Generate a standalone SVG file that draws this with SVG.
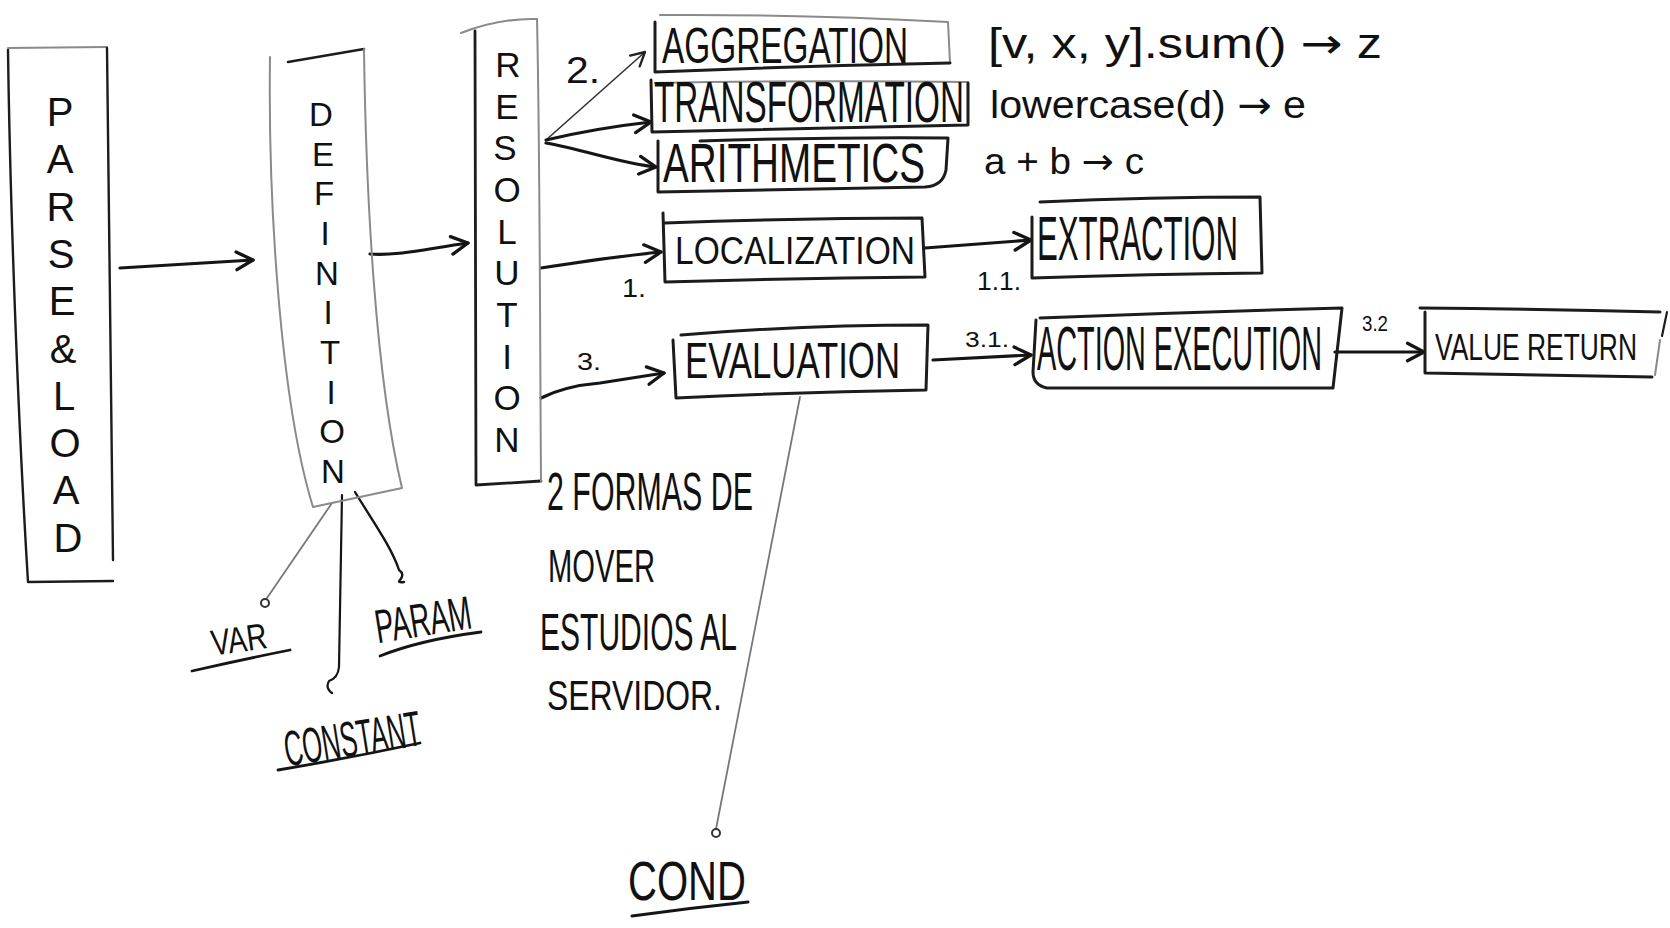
<svg xmlns="http://www.w3.org/2000/svg" width="1670" height="928" viewBox="0 0 1670 928">
<style>
  .bg{fill:#ffffff}
  .box{fill:none;stroke:#1c1c1c;stroke-width:3;stroke-linecap:round;stroke-linejoin:round}
  .pen{fill:none;stroke:#8a8a8a;stroke-width:2;stroke-linecap:round;stroke-linejoin:round}
  .con{fill:none;stroke:#151515;stroke-width:3.2;stroke-linecap:round;stroke-linejoin:round}
  .thin{fill:none;stroke:#333;stroke-width:1.6;stroke-linecap:round}
  .gray{fill:none;stroke:#777;stroke-width:1.8;stroke-linecap:round}
  .dot{fill:none;stroke:#333;stroke-width:2}
  text{font-family:"Liberation Sans",Arial,sans-serif;fill:#111}
  .ar{font-family:"DejaVu Sans",sans-serif}
  .v{text-anchor:middle}
</style>
<defs>
  <marker id="arr" viewBox="0 0 20 20" refX="18" refY="10" markerWidth="22" markerHeight="22" markerUnits="userSpaceOnUse" orient="auto">
    <path d="M3,2 L18,10 L3,18" fill="none" stroke="#151515" stroke-width="3" stroke-linecap="round" stroke-linejoin="round"/>
  </marker>
  <marker id="arrs" viewBox="0 0 20 20" refX="18" refY="10" markerWidth="18" markerHeight="18" markerUnits="userSpaceOnUse" orient="auto">
    <path d="M3,2 L18,10 L3,18" fill="none" stroke="#222" stroke-width="2.6" stroke-linecap="round" stroke-linejoin="round"/>
  </marker>
</defs>
<rect class="bg" x="0" y="0" width="1670" height="928"/>

<g id="connectors">
  <path class="con" d="M120,268 C170,265 215,262 253,260" marker-end="url(#arr)"/>
  <path class="con" d="M370,254 C395,256 420,250 468,243" marker-end="url(#arr)"/>
  <path class="thin" d="M546,140 L645,52" marker-end="url(#arrs)"/>
  <path class="con" d="M546,140 C580,132 615,126 651,122" marker-end="url(#arr)"/>
  <path class="con" d="M546,143 C585,150 620,163 656,167" marker-end="url(#arr)"/>
  <path class="con" d="M541,268 C580,262 620,256 661,252" marker-end="url(#arr)"/>
  <path class="con" d="M925,248 L1031,240" marker-end="url(#arr)"/>
  <path class="con" d="M541,398 Q565,386 600,383 L664,373" marker-end="url(#arr)"/>
  <path class="con" d="M933,360 L1031,355" marker-end="url(#arr)"/>
  <path class="con" d="M1335,352 L1424,352" marker-end="url(#arr)"/>
  <path class="gray" d="M332,503 L267,598"/>
  <circle class="dot" cx="265" cy="603" r="4"/>
  <path class="con" style="stroke-width:2.2" d="M342,495 L339,667 Q338,678 329,681 Q325,688 332,693"/>
  <path class="con" style="stroke-width:2.4" d="M355,492 C372,520 392,548 399,570 Q405,574 400,580 Q397,583 404,582"/>
  <path class="gray" d="M800,397 L716,829"/>
  <circle class="dot" cx="716" cy="833" r="4"/>
  <text x="566" y="83" font-size="36" textLength="34" lengthAdjust="spacingAndGlyphs">2.</text>
  <text x="622" y="297" font-size="26" textLength="24" lengthAdjust="spacingAndGlyphs">1.</text>
  <text x="977" y="290" font-size="26" textLength="44" lengthAdjust="spacingAndGlyphs">1.1.</text>
  <text x="577" y="370" font-size="24" textLength="24" lengthAdjust="spacingAndGlyphs">3.</text>
  <text x="965" y="347" font-size="22" textLength="44" lengthAdjust="spacingAndGlyphs">3.1.</text>
  <text x="1362" y="331" font-size="22" textLength="26" lengthAdjust="spacingAndGlyphs">3.2</text>
</g>

<g id="parse-load">
  <path class="pen" d="M8,48 L107,47"/>
  <path class="box" style="stroke-width:2.4" d="M8,50 C10,200 18,420 28,582 L113,581"/>
  <path class="box" style="stroke-width:2.4" d="M107,48 C110,200 110,420 113,560"/>
  <text class="v" font-size="40"><tspan x="60" y="126">P</tspan><tspan x="60" y="173">A</tspan><tspan x="61" y="221">R</tspan><tspan x="61" y="268">S</tspan><tspan x="62" y="315">E</tspan><tspan x="63" y="363">&amp;</tspan><tspan x="64" y="410">L</tspan><tspan x="65" y="457">O</tspan><tspan x="66" y="504">A</tspan><tspan x="68" y="552">D</tspan></text>
</g>

<g id="definition">
  <path class="pen" d="M270,57 C268,200 280,400 313,507"/>
  <path class="box" style="stroke-width:2.6" d="M288,62 L364,49"/>
  <path class="pen" d="M364,49 C366,200 376,380 402,488 L313,507"/>
  <text class="v" font-size="33"><tspan x="321" y="126">D</tspan><tspan x="323" y="166">E</tspan><tspan x="324" y="205">F</tspan><tspan x="325" y="245">I</tspan><tspan x="327" y="285">N</tspan><tspan x="328" y="324">I</tspan><tspan x="330" y="364">T</tspan><tspan x="331" y="404">I</tspan><tspan x="332" y="443">O</tspan><tspan x="333" y="483">N</tspan></text>
</g>

<g id="resolution">
  <path class="pen" d="M461,33 Q500,18 537,19"/>
  <path class="box" style="stroke-width:2.8" d="M475,31 L476,485 L541,481"/>
  <path class="pen" d="M537,19 C540,150 540,350 541,481"/>
  <text class="v" font-size="35"><tspan x="508" y="77">R</tspan><tspan x="507" y="119">E</tspan><tspan x="505" y="160">S</tspan><tspan x="507" y="202">O</tspan><tspan x="507" y="244">L</tspan><tspan x="507" y="285">U</tspan><tspan x="507" y="327">T</tspan><tspan x="507" y="369">I</tspan><tspan x="507" y="410">O</tspan><tspan x="507" y="452">N</tspan></text>
</g>

<g id="aggregation">
  <path class="pen" d="M660,15 Q800,14 948,22 L950,63"/>
  <path class="box" d="M655,22 L655,72 Q800,66 950,63"/>
  <text x="662" y="63" font-size="33" textLength="246" lengthAdjust="spacingAndGlyphs" transform="matrix(1 0 0 1.5 0 -31.5)">AGGREGATION</text>
</g>

<g id="transformation">
  <path class="pen" d="M655,83 Q810,80 968,82"/>
  <path class="box" d="M651,80 L652,132 Q810,128 968,125 L968,83"/>
  <text x="654" y="122" font-size="33" textLength="310" lengthAdjust="spacingAndGlyphs" transform="matrix(1 0 0 1.75 0 -91.5)">TRANSFORMATION</text>
</g>

<g id="arithmetics">
  <path class="box" d="M700,141 Q830,137 948,138 L946,170 Q943,186 925,187 L658,192 L658,141"/>
  <text x="663" y="182" font-size="38" textLength="262" lengthAdjust="spacingAndGlyphs" transform="matrix(1 0 0 1.45 0 -81.9)">ARITHMETICS</text>
</g>

<g id="annotations">
  <text x="988" y="58" font-size="42" textLength="394" lengthAdjust="spacingAndGlyphs">[v, x, y].sum() <tspan class="ar">→</tspan> z</text>
  <text x="990" y="118" font-size="38" textLength="316" lengthAdjust="spacingAndGlyphs">lowercase(d) <tspan class="ar">→</tspan> e</text>
  <text x="984" y="174" font-size="36" textLength="160" lengthAdjust="spacingAndGlyphs">a + b <tspan class="ar">→</tspan> c</text>
</g>

<g id="localization">
  <path class="box" d="M663,213 L665,282 Q800,278 925,277 L922,218 Q800,218 665,223"/>
  <text x="675" y="264" font-size="33" textLength="240" lengthAdjust="spacingAndGlyphs" transform="matrix(1 0 0 1.2 0 -52.8)">LOCALIZATION</text>
</g>

<g id="extraction">
  <path class="box" d="M1032,217 L1032,278 Q1150,274 1262,273 L1260,197 Q1150,197 1040,202"/>
  <text x="1037" y="260" font-size="31" textLength="201" lengthAdjust="spacingAndGlyphs" transform="matrix(1 0 0 2.05 0 -273)">EXTRACTION</text>
</g>

<g id="evaluation">
  <path class="box" d="M673,340 L676,398 Q800,392 926,390 L928,325 Q800,325 681,335"/>
  <text x="685" y="378" font-size="34" textLength="215" lengthAdjust="spacingAndGlyphs" transform="matrix(1 0 0 1.48 0 -181.4)">EVALUATION</text>
</g>

<g id="action-execution">
  <path class="box" d="M1040,318 Q1190,312 1342,308 L1333,388 L1047,388 Q1033,385 1033,372 L1036,320"/>
  <text x="1037" y="370" font-size="29" textLength="285" lengthAdjust="spacingAndGlyphs" transform="matrix(1 0 0 2.2 0 -444)">ACTION EXECUTION</text>
</g>

<g id="value-return">
  <path class="box" d="M1420,308 Q1540,309 1660,312"/>
  <path class="box" d="M1425,312 L1425,373 Q1540,375 1652,377"/>
  <path class="box" style="stroke-width:2.2" d="M1667,312 L1662,336"/>
  <path class="pen" d="M1660,340 L1655,375"/>
  <text x="1435" y="360" font-size="26" textLength="202" lengthAdjust="spacingAndGlyphs" transform="matrix(1 0 0 1.44 0 -158.4)">VALUE RETURN</text>
</g>

<g id="note">
  <text x="547" y="510" font-size="31" textLength="206" lengthAdjust="spacingAndGlyphs" transform="matrix(1 0 0 1.75 0 -382.5)">2 FORMAS DE</text>
  <text x="548" y="582" font-size="29" textLength="107" lengthAdjust="spacingAndGlyphs" transform="matrix(1 0 0 1.6 0 -349.2)">MOVER</text>
  <text x="540" y="650" font-size="30" textLength="197" lengthAdjust="spacingAndGlyphs" transform="matrix(1 0 0 1.7 0 -455)">ESTUDIOS AL</text>
  <text x="547" y="710" font-size="32" textLength="175" lengthAdjust="spacingAndGlyphs" transform="matrix(1 0 0 1.35 0 -248.5)">SERVIDOR.</text>
</g>

<g id="var">
  <text x="211" y="652" font-size="27" textLength="56" lengthAdjust="spacingAndGlyphs" transform="rotate(-8 239 640) matrix(1 0 0 1.35 0 -228.2)">VAR</text>
  <path class="con" style="stroke-width:2.8" d="M192,671 Q240,660 290,650"/>
</g>

<g id="param">
  <text x="374" y="636" font-size="27" textLength="97" lengthAdjust="spacingAndGlyphs" transform="rotate(-9 422 616) matrix(1 0 0 1.75 0 -477)">PARAM</text>
  <path class="con" style="stroke-width:2.8" d="M380,656 Q420,640 481,632"/>
</g>

<g id="constant">
  <text x="282" y="756" font-size="25" textLength="138" lengthAdjust="spacingAndGlyphs" transform="rotate(-9 351 730) matrix(1 0 0 2 0 -756)">CONSTANT</text>
  <path class="con" style="stroke-width:2.8" d="M278,770 Q350,758 420,743"/>
</g>

<g id="cond">
  <text x="628" y="900" font-size="40" textLength="118" lengthAdjust="spacingAndGlyphs" transform="matrix(1 0 0 1.4 0 -360)">COND</text>
  <path class="con" style="stroke-width:3" d="M632,916 Q690,908 748,902"/>
</g>
</svg>
